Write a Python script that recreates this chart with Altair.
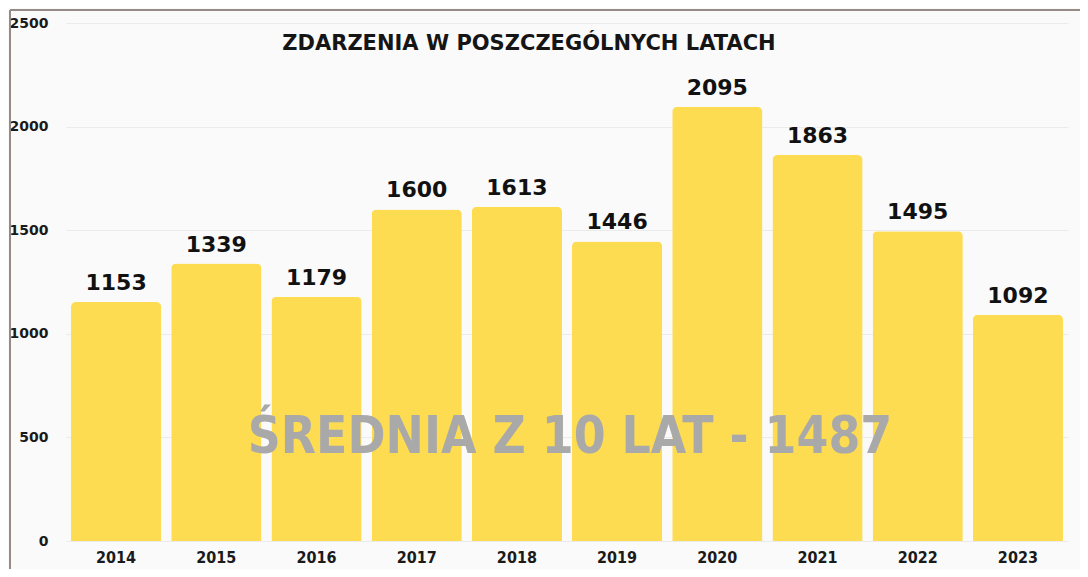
import altair as alt
import pandas as pd

years = ["2014", "2015", "2016", "2017", "2018", "2019", "2020", "2021", "2022", "2023"]
events = [1153, 1339, 1179, 1600, 1613, 1446, 2095, 1863, 1495, 1092]
y_ticks = [0, 500, 1000, 1500, 2000, 2500]
chart_title = "ZDARZENIA W POSZCZEGÓLNYCH LATACH"
avg_text = "ŚREDNIA Z 10 LAT - 1487"

df = pd.DataFrame({"rok": years, "zdarzenia": events})
one = pd.DataFrame({"a": [0]})

W, H = 1002, 518
BAR = "#FEDC52"
FONT = "DejaVu Sans"
COND = "DejaVu Sans Condensed, DejaVu Sans"

x_enc = alt.X("rok:N", sort=years,
              scale=alt.Scale(paddingInner=0.1, paddingOuter=0.05),
              axis=alt.Axis(title=None, labelAngle=0, ticks=False, domain=False,
                            labelFont=COND, labelFontSize=16, labelFontWeight="bold",
                            labelColor="#1a1a1a", labelPadding=8, grid=False))
y_enc = alt.Y("zdarzenia:Q",
              scale=alt.Scale(domain=[0, 2500], nice=False),
              axis=alt.Axis(title=None, values=y_ticks, format="d", ticks=False, domain=False,
                            labelFont=FONT, labelFontSize=14, labelFontWeight="bold",
                            labelColor="#1a1a1a", labelPadding=18,
                            gridColor="#ebebeb", gridWidth=1))

base = alt.Chart(df)

bars = base.mark_bar(color=BAR, cornerRadiusTopLeft=5, cornerRadiusTopRight=5).encode(
    x=x_enc, y=y_enc)

labels = base.mark_text(font=FONT, fontSize=22, fontWeight="bold",
                        color="#111111", baseline="alphabetic", dy=-12).encode(
    x=alt.X("rok:N", sort=years), y=alt.Y("zdarzenia:Q"), text=alt.Text("zdarzenia:Q"))

title_mark = alt.Chart(one).mark_text(font=FONT, fontSize=21, fontWeight="bold",
                                      color="#151515", baseline="alphabetic", align="center",
                                      text=chart_title).encode(
    x=alt.value(463), y=alt.value(27))

avg_mark = alt.Chart(one).mark_text(font=COND, fontSize=51, fontWeight="bold",
                                    color="#a9a9a9", baseline="alphabetic", align="center",
                                    text=avg_text).encode(
    x=alt.value(504), y=alt.value(430))

frame_left = alt.Chart(one).mark_rule(color="#958a85", strokeWidth=2).encode(
    x=alt.value(-56), y=alt.value(-13), y2=alt.value(560))
frame_top = alt.Chart(one).mark_rule(color="#958a85", strokeWidth=2).encode(
    x=alt.value(-56), x2=alt.value(1030), y=alt.value(-13))

chart = alt.layer(bars, labels, avg_mark, title_mark, frame_left, frame_top).properties(
    width=W, height=H,
    autosize=alt.AutoSizeParams(type="none"),
    padding={"left": 58, "top": 15, "right": 12, "bottom": 28},
    background="#fafafa",
).configure_view(stroke=None)

chart.save("out.html", embed_options={"renderer": "svg", "actions": False})
